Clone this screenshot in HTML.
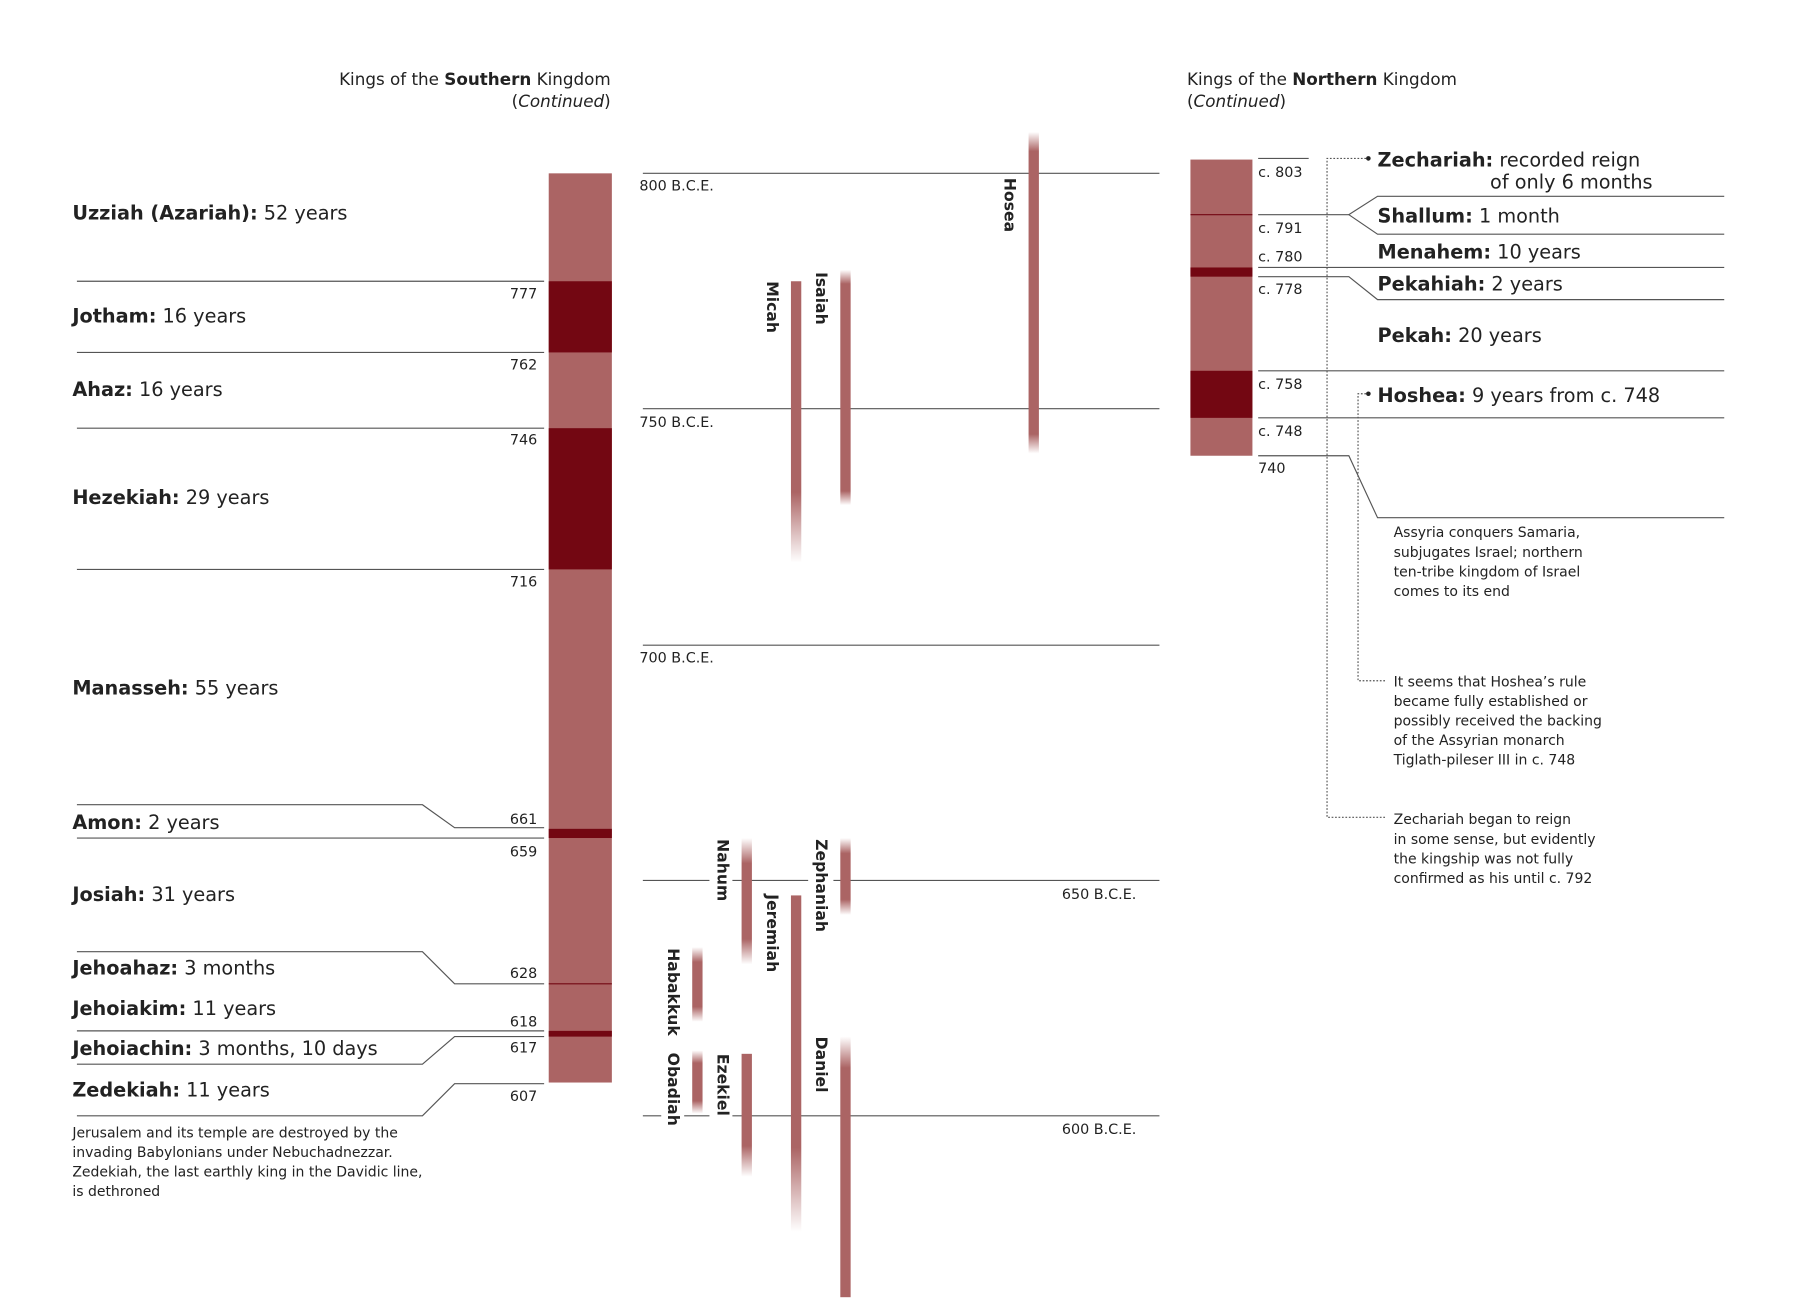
<!DOCTYPE html>
<html><head><meta charset="utf-8"><style>
html,body{margin:0;padding:0;background:#fff}
svg{display:block}
text{font-family:"DejaVu Sans","Liberation Sans",sans-serif;fill:#222}
.k{font-size:16.8px}
.k tspan.b{font-weight:bold}
.y{font-size:12.5px}
.n{font-size:12.2px}
.p{font-size:13.6px;font-weight:bold}
.ln{stroke:#555;stroke-width:1;fill:none}
.dt{stroke:#555;stroke-width:1;stroke-dasharray:1.5,1.5;fill:none}
</style></head><body>
<svg width="1800" height="1298" viewBox="0 0 1568 1130.7" xmlns="http://www.w3.org/2000/svg">
<defs>
<linearGradient id="fb" x1="0" y1="0" x2="0" y2="1">
<stop offset="0" stop-color="#ab6464" stop-opacity="0"/><stop offset="0.06" stop-color="#ab6464"/><stop offset="0.94" stop-color="#ab6464"/><stop offset="1" stop-color="#ab6464" stop-opacity="0"/></linearGradient>
<linearGradient id="fs" x1="0" y1="0" x2="0" y2="1">
<stop offset="0" stop-color="#ab6464" stop-opacity="0"/><stop offset="0.2" stop-color="#ab6464"/><stop offset="0.8" stop-color="#ab6464"/><stop offset="1" stop-color="#ab6464" stop-opacity="0"/></linearGradient>
<linearGradient id="fbot" x1="0" y1="0" x2="0" y2="1">
<stop offset="0" stop-color="#ab6464"/><stop offset="0.75" stop-color="#ab6464"/><stop offset="1" stop-color="#ab6464" stop-opacity="0"/></linearGradient>
<linearGradient id="ftop" x1="0" y1="0" x2="0" y2="1">
<stop offset="0" stop-color="#ab6464" stop-opacity="0"/><stop offset="0.12" stop-color="#ab6464"/><stop offset="1" stop-color="#ab6464"/></linearGradient>
</defs>

<text x="532" y="74" text-anchor="end" style="font-size:14.6px">Kings of the <tspan font-weight="bold">Southern</tspan> Kingdom</text>
<text x="532" y="93" text-anchor="end" style="font-size:14.6px">(<tspan font-style="italic">Continued</tspan>)</text>

<rect x="478" y="151" width="55" height="792" fill="#ab6464"/>
<rect x="478" y="245" width="55" height="62" fill="#730712"/>
<rect x="478" y="373" width="55" height="123" fill="#730712"/>
<rect x="478" y="722" width="55" height="8" fill="#730712"/>
<rect x="478" y="898" width="55" height="5" fill="#730712"/>
<line x1="478" y1="857" x2="533" y2="857" stroke="#730712" stroke-width="1"/>

<g class="ln">
<line x1="67" y1="245" x2="474" y2="245"/>
<line x1="67" y1="307" x2="474" y2="307"/>
<line x1="67" y1="373" x2="474" y2="373"/>
<line x1="67" y1="496" x2="474" y2="496"/>
<polyline points="67,701 368,701 396,721 474,721"/>
<line x1="67" y1="730" x2="474" y2="730"/>
<polyline points="67,829 368,829 396,857 474,857"/>
<line x1="67" y1="898" x2="474" y2="898"/>
<polyline points="67,927 368,927 396,903 474,903"/>
<polyline points="67,972 368,972 396,944 474,944"/>
</g>
<g class="y" text-anchor="end">
<text x="468" y="260">777</text><text x="468" y="322">762</text><text x="468" y="387">746</text><text x="468" y="511">716</text>
<text x="468" y="718">661</text><text x="468" y="746">659</text><text x="468" y="852">628</text>
<text x="468" y="894">618</text><text x="468" y="917">617</text><text x="468" y="959">607</text>
</g>
<g class="k">
<text x="63" y="191"><tspan class="b">Uzziah (Azariah):</tspan> 52 years</text>
<text x="63" y="281"><tspan class="b">Jotham:</tspan> 16 years</text>
<text x="63" y="345"><tspan class="b">Ahaz:</tspan> 16 years</text>
<text x="63" y="439"><tspan class="b">Hezekiah:</tspan> 29 years</text>
<text x="63" y="605"><tspan class="b">Manasseh:</tspan> 55 years</text>
<text x="63" y="722"><tspan class="b">Amon:</tspan> 2 years</text>
<text x="63" y="785"><tspan class="b">Josiah:</tspan> 31 years</text>
<text x="63" y="849"><tspan class="b">Jehoahaz:</tspan> 3 months</text>
<text x="63" y="884"><tspan class="b">Jehoiakim:</tspan> 11 years</text>
<text x="63" y="919"><tspan class="b">Jehoiachin:</tspan> 3 months, 10 days</text>
<text x="63" y="955"><tspan class="b">Zedekiah:</tspan> 11 years</text>
</g>
<g class="n">
<text x="63" y="991">Jerusalem and its temple are destroyed by the</text>
<text x="63" y="1008">invading Babylonians under Nebuchadnezzar.</text>
<text x="63" y="1025">Zedekiah, the last earthly king in the Davidic line,</text>
<text x="63" y="1042">is dethroned</text>
</g>

<g class="ln">
<line x1="560" y1="151" x2="1010" y2="151"/>
<line x1="560" y1="356" x2="1010" y2="356"/>
<line x1="560" y1="562" x2="1010" y2="562"/>
<line x1="560" y1="767" x2="1010" y2="767"/>
<line x1="560" y1="972" x2="1010" y2="972"/>
</g>
<g class="y">
<text x="557" y="166">800 B.C.E.</text>
<text x="557" y="372">750 B.C.E.</text>
<text x="557" y="577">700 B.C.E.</text>
<text x="925" y="783">650 B.C.E.</text>
<text x="925" y="988">600 B.C.E.</text>
</g>

<rect x="896" y="115" width="9" height="280" fill="url(#fb)"/>
<rect x="689" y="245" width="9" height="245" fill="url(#fbot)"/>
<rect x="732" y="235" width="9" height="205" fill="url(#fb)"/>
<rect x="646" y="730" width="9" height="110" fill="url(#fs)"/>
<rect x="732" y="730" width="9" height="67" fill="url(#fs)"/>
<rect x="689" y="780" width="9" height="293" fill="url(#fbot)"/>
<rect x="603" y="825" width="9" height="65" fill="url(#fs)"/>
<rect x="603" y="915" width="9" height="55" fill="url(#fs)"/>
<rect x="646" y="918" width="9" height="107" fill="url(#fbot)"/>
<rect x="732" y="903" width="9" height="227" fill="url(#ftop)"/>

<rect x="618" y="760" width="20" height="14" fill="#fff"/>
<rect x="704" y="760" width="22" height="14" fill="#fff"/>
<rect x="576" y="965" width="20" height="14" fill="#fff"/>
<rect x="618" y="965" width="20" height="14" fill="#fff"/>

<g class="p">
<text transform="translate(875,155) rotate(90)">Hosea</text>
<text transform="translate(668,245) rotate(90)">Micah</text>
<text transform="translate(711,237) rotate(90)">Isaiah</text>
<text transform="translate(625,731) rotate(90)">Nahum</text>
<text transform="translate(711,731) rotate(90)">Zephaniah</text>
<text transform="translate(668,779) rotate(90)">Jeremiah</text>
<text transform="translate(582,826) rotate(90)">Habakkuk</text>
<text transform="translate(582,917) rotate(90)">Obadiah</text>
<text transform="translate(625,918) rotate(90)">Ezekiel</text>
<text transform="translate(711,903) rotate(90)">Daniel</text>
</g>

<text x="1034" y="74" style="font-size:14.6px">Kings of the <tspan font-weight="bold">Northern</tspan> Kingdom</text>
<text x="1034" y="93" style="font-size:14.6px">(<tspan font-style="italic">Continued</tspan>)</text>

<rect x="1037" y="139" width="54" height="258" fill="#ab6464"/>
<rect x="1037" y="233" width="54" height="8" fill="#730712"/>
<rect x="1037" y="323" width="54" height="41" fill="#730712"/>
<line x1="1037" y1="187" x2="1091" y2="187" stroke="#730712" stroke-width="1"/>

<g class="ln">
<line x1="1096" y1="138" x2="1140" y2="138"/>
<line x1="1096" y1="187" x2="1175" y2="187"/>
<polyline points="1502,171 1200,171 1175,187 1200,204 1502,204"/>
<line x1="1096" y1="233" x2="1502" y2="233"/>
<polyline points="1096,241 1175,241 1200,261 1502,261"/>
<line x1="1096" y1="323" x2="1502" y2="323"/>
<line x1="1096" y1="364" x2="1502" y2="364"/>
<polyline points="1096,397 1175,397 1200,451 1502,451"/>
</g>
<g class="dt">
<polyline points="1190,138 1156,138 1156,712 1208,712"/>
<polyline points="1190,343 1183,343 1183,593 1208,593"/>
</g>
<circle cx="1192" cy="138" r="2" fill="#222"/>
<circle cx="1192" cy="343" r="2" fill="#222"/>

<g class="y">
<text x="1096" y="154">c. 803</text><text x="1096" y="203">c. 791</text><text x="1096" y="228">c. 780</text>
<text x="1096" y="256">c. 778</text><text x="1096" y="339">c. 758</text><text x="1096" y="380">c. 748</text>
<text x="1096" y="412">740</text>
</g>
<g class="k">
<text x="1200" y="145"><tspan class="b">Zechariah:</tspan> recorded reign</text>
<text x="1298" y="164">of only 6 months</text>
<text x="1200" y="194"><tspan class="b">Shallum:</tspan> 1 month</text>
<text x="1200" y="225"><tspan class="b">Menahem:</tspan> 10 years</text>
<text x="1200" y="253"><tspan class="b">Pekahiah:</tspan> 2 years</text>
<text x="1200" y="298"><tspan class="b">Pekah:</tspan> 20 years</text>
<text x="1200" y="350"><tspan class="b">Hoshea:</tspan> 9 years from c. 748</text>
</g>
<g class="n">
<text x="1214" y="468">Assyria conquers Samaria,</text>
<text x="1214" y="485">subjugates Israel; northern</text>
<text x="1214" y="502">ten-tribe kingdom of Israel</text>
<text x="1214" y="519">comes to its end</text>
<text x="1214" y="598">It seems that Hoshea’s rule</text>
<text x="1214" y="615">became fully established or</text>
<text x="1214" y="632">possibly received the backing</text>
<text x="1214" y="649">of the Assyrian monarch</text>
<text x="1214" y="666">Tiglath-pileser III in c. 748</text>
<text x="1214" y="718">Zechariah began to reign</text>
<text x="1214" y="735">in some sense, but evidently</text>
<text x="1214" y="752">the kingship was not fully</text>
<text x="1214" y="769">confirmed as his until c. 792</text>
</g>
</svg>
</body></html>
